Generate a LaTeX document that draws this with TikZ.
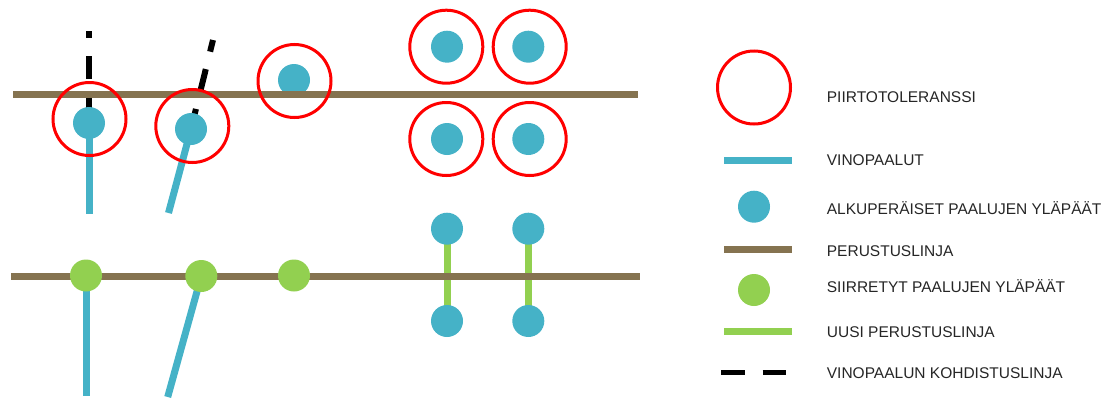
\documentclass[tikz,border=0pt]{standalone}
\usepackage{fontspec}
\setmainfont{Liberation Sans}
\definecolor{pblue}{HTML}{45B2C7}
\definecolor{pbrown}{HTML}{857350}
\definecolor{pgreen}{HTML}{92D050}
\definecolor{pred}{HTML}{FF0000}
\definecolor{ptext}{HTML}{262626}
\begin{document}
\begin{tikzpicture}[x=1pt,y=-1pt,
  top/.style={circle,fill=pblue,inner sep=0pt,minimum size=32pt},
  moved/.style={circle,fill=pgreen,inner sep=0pt,minimum size=32pt},
  tol/.style={circle,draw=pred,line width=3pt,inner sep=0pt,minimum size=73pt},
  pile/.style={draw=pblue,line width=7pt},
  base/.style={draw=pbrown,line width=7pt},
  newbase/.style={draw=pgreen,line width=7pt},
  aim/.style={draw=black,line width=6pt,dash pattern=on 23pt off 18pt},
  lbl/.style={anchor=base west,inner sep=0pt,text=ptext,font=\fontsize{15.5}{18}\selectfont}]
\useasboundingbox (0,0) rectangle (1108,399);
% ---------- top row ----------
\coordinate (b1c) at (89,123);
\coordinate (b2c) at (191,129);
\coordinate (p1end) at (89,214);
\coordinate (p2end) at (168.5,213);
\coordinate (d1top) at (89,31);
\coordinate (d2top) at (213,40);
\coordinate (bl1) at (13,94);
\coordinate (br1) at (638,94);
\path[pile] (b1c) -- (p1end);
\path[pile] (b2c) -- (p2end);
\path[aim,dash phase=16pt] (d1top) -- (b1c);
\path[aim,dash phase=11pt] (d2top) -- (b2c);
\node[top] (b1) at (b1c) {};
\node[top] (b2) at (b2c) {};
\node[top] (b3) at (294,80) {};
\node[top] (b4) at (447,46.7) {};
\node[top] (b5) at (528.3,46.7) {};
\node[top] (b6) at (447,139) {};
\node[top] (b7) at (528.3,139) {};
\path[base] (bl1) -- (br1);
\node[tol] (t1) at (89.5,119) {};
\node[tol] (t2) at (192.3,126) {};
\node[tol] (t3) at (294.5,81) {};
\node[tol] (t4) at (446.3,46.7) {};
\node[tol] (t5) at (529.7,46.7) {};
\node[tol] (t6) at (446.3,139) {};
\node[tol] (t7) at (529.7,139) {};
% ---------- bottom row ----------
\coordinate (g1c) at (86,275.5);
\coordinate (g2c) at (201.3,276);
\coordinate (c1c) at (447,228.7);
\coordinate (c2c) at (528.3,228.7);
\coordinate (c3c) at (447,321);
\coordinate (c4c) at (528.3,321);
\coordinate (q1end) at (86,396);
\coordinate (q2end) at (167.7,397);
\coordinate (bl2) at (11,276);
\coordinate (br2) at (640,276);
\path[pile] (g1c) -- (q1end);
\path[pile] (g2c) -- (q2end);
\path[newbase] (c1c) -- (c3c);
\path[newbase] (c2c) -- (c4c);
\path[base] (bl2) -- (br2);
\node[moved] (g1) at (g1c) {};
\node[moved] (g2) at (g2c) {};
\node[moved] (g3) at (294,275.5) {};
\node[top] (c1) at (c1c) {};
\node[top] (c2) at (c2c) {};
\node[top] (c3) at (c3c) {};
\node[top] (c4) at (c4c) {};
% ---------- legend ----------
\node[tol] (lt) at (754,87.5) {};
\coordinate (lp1) at (724,160.7); \coordinate (lp2) at (792.3,160.7);
\path[pile] (lp1) -- (lp2);
\node[top] (lb) at (754,206.7) {};
\coordinate (lr1) at (724,249.3); \coordinate (lr2) at (792.3,249.3);
\path[base] (lr1) -- (lr2);
\node[moved] (lg) at (754,290) {};
\coordinate (ln1) at (724,331); \coordinate (ln2) at (792.3,331);
\path[newbase] (ln1) -- (ln2);
\coordinate (la1) at (721.3,372.7); \coordinate (la2) at (785.7,372.7);
\path[draw=black,line width=5.5pt,dash pattern=on 23.4pt off 18pt] (la1) -- (la2);
\node[lbl] (x1) at (826.7,102.8) {PIIRTOTOLERANSSI};
\node[lbl] (x2) at (826.7,165.9) {VINOPAALUT};
\node[lbl] (x3) at (826.7,214.9) {ALKUPERÄISET PAALUJEN YLÄPÄÄT};
\node[lbl] (x4) at (826.7,256.9) {PERUSTUSLINJA};
\node[lbl] (x5) at (826.7,292.6) {SIIRRETYT PAALUJEN YLÄPÄÄT};
\node[lbl] (x6) at (826.7,337.6) {UUSI PERUSTUSLINJA};
\node[lbl] (x7) at (826.7,378.6) {VINOPAALUN KOHDISTUSLINJA};
\end{tikzpicture}
\end{document}
